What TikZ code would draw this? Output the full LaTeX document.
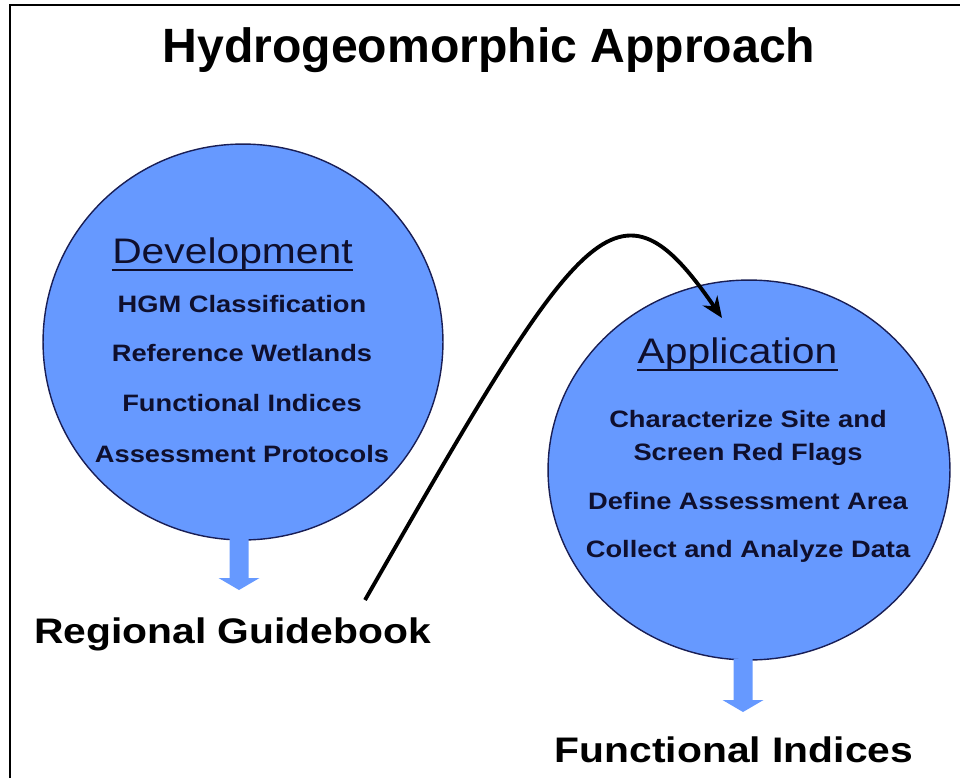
\documentclass[tikz,border=0pt]{standalone}
\usepackage{fontspec}
\setmainfont{Liberation Sans}
\usepackage{graphicx}
\usetikzlibrary{shapes.geometric,arrows.meta,positioning}

\definecolor{bubble}{RGB}{102,153,255}
\definecolor{rim}{RGB}{25,30,85}
\definecolor{ink}{RGB}{15,15,45}

\newcommand{\wide}[1]{\scalebox{1.15}[1]{#1}}
\newcommand{\blockdown}[1]{\fill[blockarrow] (#1) ++(-9.5,0) -- ++(0,41) -- ++(-11,0) -- ++(20.5,12) -- ++(20.5,-12) -- ++(-11,0) -- ++(0,-41) -- cycle;}

\begin{document}
\begin{tikzpicture}[x=0.02cm,y=-0.02cm,>={Stealth[length=12pt,width=10pt]},semithick]
		\tikzstyle{bubble node}=[ellipse,draw=rim,line width=0.8pt,fill=bubble,inner sep=0pt]
		\tikzstyle{head}=[inner sep=0pt,text=ink,font=\fontsize{20.2}{24}\selectfont]
		\tikzstyle{item}=[inner sep=0pt,text=ink,font=\bfseries\fontsize{13.5}{16}\selectfont,text height=10pt,text depth=3pt]
		\tikzstyle{result}=[inner sep=0pt,font=\bfseries\fontsize{20.2}{24}\selectfont]
		\tikzstyle{uline}=[draw=ink,line width=1.1pt]
		\tikzstyle{blockarrow}=[fill=bubble]
		\useasboundingbox (0,0) rectangle (960,778);
		% frame
		\draw[line width=1.7pt] (10,778) -- (10,5) -- (960,5);
		\node[inner sep=0pt,anchor=base,font=\bfseries\fontsize{27.4}{32}\selectfont] (title) at (489,62) {Hydrogeomorphic Approach};
		% circles
		\node[bubble node,minimum width=8cm,minimum height=7.92cm] (dev) at (243,342) {};
		\node[bubble node,minimum width=8.04cm,minimum height=7.6cm] (app) at (749,470) {};
		% development
		\node[head,anchor=base]    (devh) at (232.5,263)              {\wide{Development}};
		\draw[uline] ([yshift=-3.8pt]devh.base west) -- ([yshift=-3.8pt]devh.base east);
		\node[item,anchor=base]    (d1) at (242,312)                  {\wide{HGM Classification}};
		\node[item]    (d2)[below of=d1, node distance=1cm]           {\wide{Reference Wetlands}};
		\node[item]    (d3)[below of=d2, node distance=1cm]           {\wide{Functional Indices}};
		\node[item]    (d4)[below of=d3, node distance=1.02cm]        {\wide{Assessment Protocols}};
		% application
		\node[head,anchor=base]    (apph) at (737.5,363)              {\wide{Application}};
		\draw[uline] ([yshift=-4.2pt]apph.base west) -- ([yshift=-4.2pt]apph.base east);
		\node[item,anchor=base]    (a1) at (748,427)                  {\wide{Characterize Site and}};
		\node[item]    (a2)[below of=a1, node distance=0.66cm]        {\wide{Screen Red Flags}};
		\node[item]    (a3)[below of=a2, node distance=1cm]           {\wide{Define Assessment Area}};
		\node[item]    (a4)[below of=a3, node distance=0.96cm]        {\wide{Collect and Analyze Data}};
		% outputs
		\node[result,anchor=base]  (guide) at (232.5,643)             {\wide{Regional Guidebook}};
		\node[result,anchor=base]  (index) at (734,762)               {\wide{Functional Indices}};
		\coordinate (devfoot) at (239,537);
		\coordinate (appfoot) at (743,659);
		\blockdown{devfoot}
		\blockdown{appfoot}
		% guidebook feeds application
		\coordinate (lift) at (365,600);
		\coordinate (drop) at (722,318);
		\draw[->,line width=2.2pt] (lift) .. controls (583,220) and (617,165) .. (drop);
	\end{tikzpicture}
\end{document}
